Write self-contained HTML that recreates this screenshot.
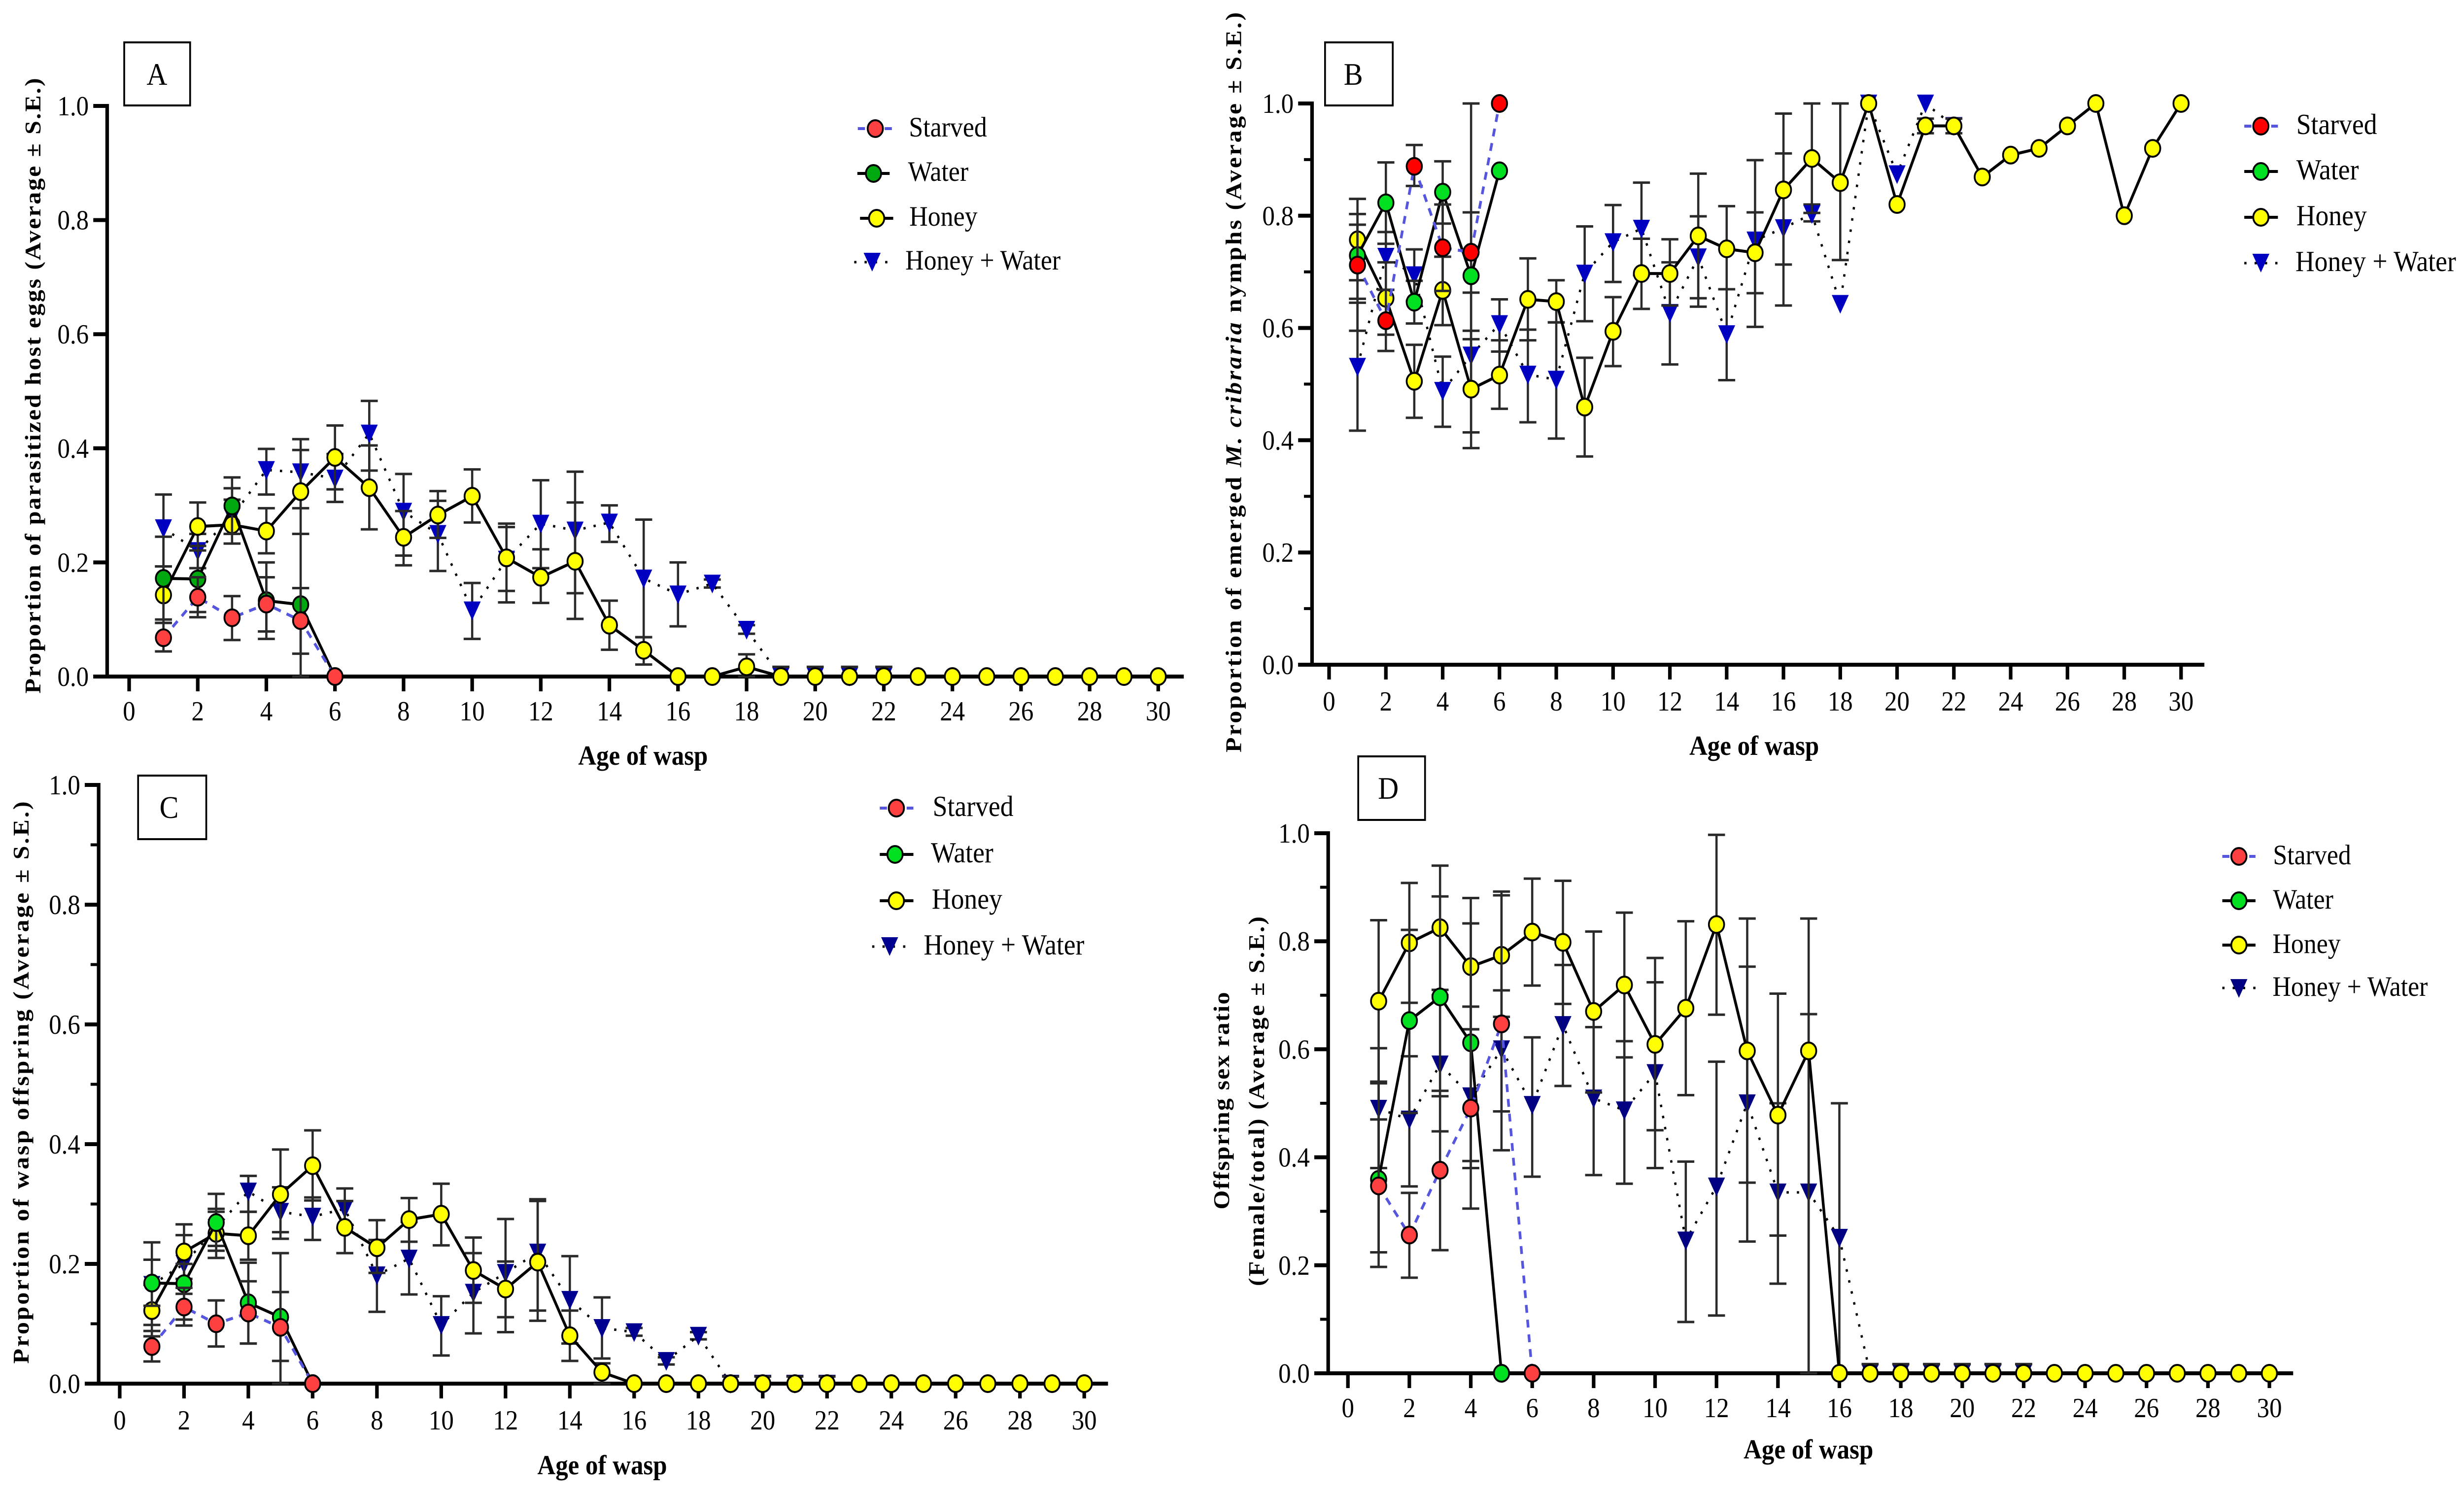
<!DOCTYPE html>
<html lang="en">
<head>
<meta charset="utf-8">
<meta name="viewport" content="width=5495, initial-scale=1">
<title>Wasp parasitism by age and diet</title>
<style>
html,body{margin:0;padding:0;background:#fff;width:100%;height:100%;overflow:hidden}
svg{display:block;position:fixed;left:0;top:0;width:100vw;height:100vh}
text{font-family:"Liberation Serif",serif;fill:#000}
.t{font-weight:bold;font-size:50px}
.xt{font-weight:bold;font-size:56px;text-anchor:middle}
.lg{font-size:57px}
.bx{font-size:64px;text-anchor:middle}
.box{fill:#fff;stroke:#000;stroke-width:4}
.dash{stroke:#5555dd;stroke-width:6;stroke-dasharray:16 14;fill:none}
.solid{stroke:#000;stroke-width:6;fill:none}
.dot{stroke:#000;stroke-width:5;stroke-dasharray:5 18;fill:none}
.mk{stroke:#000;stroke-width:4}
</style>
</head>
<body>
<svg id="fig" xmlns="http://www.w3.org/2000/svg" viewBox="0 0 5495 3034" preserveAspectRatio="none">
<rect width="5495" height="3034" fill="#fff"/>

<g>
  <rect class="box" x="277" y="86" width="147" height="128"/>
  <text class="bx" x="350" y="172">A</text>
  <text class="t" textLength="1249" lengthAdjust="spacing" text-anchor="middle" transform="translate(90,783) rotate(-90)">Proportion of parasitized host eggs (Average ± S.E.)</text>
  <text class="xt" x="1434" y="1552">Age of wasp</text>
  <g>
    <g><line class="dash" x1="1913" y1="261" x2="1989" y2="261"/><circle class="mk" cx="1952" cy="261" r="17" fill="#ff4040"/><text class="lg" x="2027" y="277">Starved</text></g>
    <g><line class="solid" x1="1912" y1="352" x2="1984" y2="352"/><circle class="mk" cx="1948" cy="352" r="17" fill="#00a810"/><text class="lg" x="2025" y="367">Water</text></g>
    <g><line class="solid" x1="1918" y1="443" x2="1992" y2="443"/><circle class="mk" cx="1955" cy="443" r="17" fill="#ffff00"/><text class="lg" x="2028" y="458">Honey</text></g>
    <g><line class="dot" x1="1905" y1="532" x2="1985" y2="532"/><polygon points="1926,513 1964,513 1945,551" fill="#0000c0"/><text class="lg" x="2019" y="547">Honey + Water</text></g>
  </g>
</g>

<g>
  <rect class="box" x="2955" y="86" width="151" height="128"/>
  <text class="bx" x="3018" y="172">B</text>
  <text class="t" textLength="1502" lengthAdjust="spacing" text-anchor="middle" transform="translate(2768,776) rotate(-90)">Proportion of emerged <tspan font-style="italic">M. cribraria</tspan> nymphs (Average ± S.E.)</text>
  <text class="xt" x="3912" y="1532">Age of wasp</text>
  <g>
    <g><line class="dash" x1="5005" y1="256" x2="5080" y2="256"/><circle class="mk" cx="5042" cy="256" r="17" fill="#ff0000"/><text class="lg" x="5121" y="272" style="font-size:59px">Starved</text></g>
    <g><line class="solid" x1="5005" y1="348" x2="5080" y2="348"/><circle class="mk" cx="5042" cy="348" r="17" fill="#00e020"/><text class="lg" x="5121" y="364" style="font-size:59px">Water</text></g>
    <g><line class="solid" x1="5005" y1="441" x2="5080" y2="441"/><circle class="mk" cx="5042" cy="441" r="17" fill="#ffff00"/><text class="lg" x="5121" y="457" style="font-size:59px">Honey</text></g>
    <g><line class="dot" x1="5005" y1="534" x2="5080" y2="534"/><polygon points="5023,515 5061,515 5042,553" fill="#0000c0"/><text class="lg" x="5119" y="550" style="font-size:59px">Honey + Water</text></g>
  </g>
</g>

<g>
  <rect class="box" x="308" y="1574" width="152" height="129"/>
  <text class="bx" x="377" y="1660">C</text>
  <text class="t" textLength="1141" lengthAdjust="spacing" text-anchor="middle" transform="translate(64,2197) rotate(-90)">Proportion of wasp offspring (Average ± S.E.)</text>
  <text class="xt" x="1343" y="2992">Age of wasp</text>
  <g>
    <g><line class="dash" x1="1962" y1="1640" x2="2037" y2="1640"/><circle class="mk" cx="1999" cy="1640" r="17" fill="#ff4040"/><text class="lg" x="2080" y="1656" style="font-size:59px">Starved</text></g>
    <g><line class="solid" x1="1962" y1="1734" x2="2037" y2="1734"/><circle class="mk" cx="1996" cy="1734" r="17" fill="#00e020"/><text class="lg" x="2076" y="1750" style="font-size:59px">Water</text></g>
    <g><line class="solid" x1="1962" y1="1828" x2="2037" y2="1828"/><circle class="mk" cx="1999" cy="1828" r="17" fill="#ffff00"/><text class="lg" x="2078" y="1844" style="font-size:59px">Honey</text></g>
    <g><line class="dot" x1="1945" y1="1921" x2="2025" y2="1921"/><polygon points="1965,1902 2003,1902 1984,1940" fill="#000090"/><text class="lg" x="2060" y="1937" style="font-size:59px">Honey + Water</text></g>
  </g>
</g>

<g>
  <rect class="box" x="3029" y="1535" width="149" height="129"/>
  <text class="bx" x="3096" y="1621">D</text>
  <text class="t" textLength="441" lengthAdjust="spacing" text-anchor="middle" transform="translate(2741,2234) rotate(-90)">Offspring sex ratio</text>
  <text class="t" textLength="750" lengthAdjust="spacing" text-anchor="middle" transform="translate(2819,2235) rotate(-90)">(Female/total) (Average ± S.E.)</text>
  <text class="xt" x="4033" y="2960">Age of wasp</text>
  <g>
    <g><line class="dash" x1="4956" y1="1738" x2="5030" y2="1738"/><circle class="mk" cx="4993" cy="1738" r="17" fill="#ff4040"/><text class="lg" x="5069" y="1754">Starved</text></g>
    <g><line class="solid" x1="4956" y1="1828" x2="5030" y2="1828"/><circle class="mk" cx="4993" cy="1828" r="17" fill="#00e020"/><text class="lg" x="5069" y="1844">Water</text></g>
    <g><line class="solid" x1="4956" y1="1918" x2="5030" y2="1918"/><circle class="mk" cx="4993" cy="1918" r="17" fill="#ffff00"/><text class="lg" x="5068" y="1934">Honey</text></g>
    <g><line class="dot" x1="4956" y1="2005" x2="5030" y2="2005"/><polygon points="4974,1987 5012,1987 4993,2025" fill="#000080"/><text class="lg" x="5068" y="2021">Honey + Water</text></g>
  </g>
</g>

<g id="charts"></g>
</svg>

<script>
// Categories and tick labels
const days = [1,2,3,4,5,6,7,8,9,10,11,12,13,14,15,16,17,18,19,20,21,22,23,24,25,26,27,28,29,30];
const xTickLabels = ['0','2','4','6','8','10','12','14','16','18','20','22','24','26','28','30'];
const yTickLabels = ['0.0','0.2','0.4','0.6','0.8','1.0'];
const yMinorTickValues = [0.1,0.3,0.5,0.7,0.9];

// Panel A: proportion of parasitized host eggs
const aStarvedMean = [.068,.139,.103,.127,.098,0];
const aStarvedHi = [.094,.174,.141,.174,.155,0];
const aStarvedLo = [.044,.104,.064,.079,.04,0];
const aWaterMean = [.172,.171,.299,.133,.126,0];
const aWaterHi = [.245,.229,.349,.2,.25,0];
const aWaterLo = [.1,.113,.25,.066,0,0];
const aHoneyMean = [.143,.263,.266,.255,.324,.384,.331,.244,.283,.316,.208,.174,.202,.09,.046,0,0,.017,0,0,0,0,0,0,0,0,0,0,0,0];
const aHoneyHi = [.193,.305,.33,.295,.397,.44,.405,.29,.325,.363,.268,.223,.305,.133,.069,0,0,.039,.017,.017,.017,.017,0,0,0,0,0,0,0,0];
const aHoneyLo = [.094,.221,.233,.216,.25,.328,.258,.195,.243,.27,.13,.129,.101,.047,.021,0,0,0,0,0,0,0,0,0,0,0,0,0,0,0];
const aHoneyWaterMean = [.26,.22,.28,.362,.358,.347,.426,.289,.25,.116,.205,.268,.256,.27,.172,.144,.163,.082,0,0,0,0];
const aHoneyWaterHi = [.319,.25,.31,.399,.416,.39,.483,.355,.308,.164,.262,.344,.359,.3,.275,.2,.17,.09,.017,.017,.017,.017];
const aHoneyWaterLo = [.193,.19,.25,.319,.295,.306,.361,.212,.185,.066,.15,.19,.146,.236,.069,.088,.156,.075,0,0,0,0];

// Panel B: proportion of emerged nymphs
const bStarvedMean = [.712,.613,.888,.743,.735,1];
const bStarvedHi = [.784,.668,.926,.82,1,1];
const bStarvedLo = [.595,.559,.853,.666,null,1];
const bWaterMean = [.729,.823,.646,.842,.693,.88];
const bWaterHi = [.803,.895,.684,.897,.806,.88];
const bWaterLo = [.652,.75,.608,.786,.58,.88];
const bHoneyMean = [.757,.653,.505,.667,.491,.516,.651,.647,.459,.594,.697,.697,.764,.741,.734,.846,.902,.859,1,.82,.96,.96,.869,.908,.92,.96,1,.8,.92,1];
const bHoneyHi = [.83,.717,.57,.727,.595,.578,.724,.685,.547,.655,.759,.758,.875,.817,.806,.982,1,1,1,.82,.973,.973,.869,.908,.92,.96,1,.8,.92,1];
const bHoneyLo = [.685,.588,.44,.605,.386,.456,.578,.61,.371,.532,.634,.64,.653,.669,.662,.713,.805,.721,1,.82,.947,.947,.869,.908,.92,.96,1,.8,.92,1];
const bHoneyWaterMean = [.531,.727,.694,.488,.551,.607,.517,.508,.697,.753,.777,.627,.726,.589,.756,.778,.803,.643,1,.874,1,.96];
const bHoneyWaterHi = [.645,.771,.74,.549,.663,.651,.597,.61,.781,.819,.859,.717,.799,.669,.899,.911,.82,.643,1,.874,1,.96];
const bHoneyWaterLo = [.417,.668,.648,.424,.414,.558,.432,.403,.612,.682,.694,.535,.638,.507,.602,.64,.79,.643,1,.874,1,.96];

// Panel C: proportion of wasp offspring
const cStarvedMean = [.062,.128,.1,.118,.094,0];
const cStarvedHi = [.088,.16,.139,.171,.153,0];
const cStarvedLo = [.037,.097,.062,.067,.038,0];
const cWaterMean = [.168,.167,.269,.135,.111,0];
const cWaterHi = [.207,.2,.317,.202,.218,0];
const cWaterLo = [.13,.107,.222,.067,0,0];
const cHoneyMean = [.122,.22,.251,.247,.316,.364,.261,.227,.274,.283,.189,.158,.203,.08,.019,0,0,0,0,0,0,0,0,0,0,0,0,0,0,0];
const cHoneyHi = [.165,.266,.292,.287,.391,.423,.305,.273,.31,.334,.244,.204,.305,.122,.034,0,0,0,.012,.012,.012,.012,0,0,0,0,0,0,0,0];
const cHoneyLo = [.079,.175,.21,.207,.242,.306,.218,.185,.237,.231,.135,.111,.105,.038,0,0,0,0,0,0,0,0,0,0,0,0,0,0,0,0];
const cHoneyWaterMean = [.165,.2,.26,.321,.287,.279,.292,.181,.209,.098,.152,.185,.219,.14,.093,.086,.038,.08,0,0,0,0];
const cHoneyWaterHi = [.236,.248,.287,.347,.328,.311,.326,.24,.27,.146,.218,.275,.308,.213,.144,.093,.044,.086,.012,.012,.012,.012];
const cHoneyWaterLo = [.098,.15,.23,.287,.253,.24,.26,.12,.149,.047,.084,.086,.122,.067,.042,.08,.032,.074,0,0,0,0];

// Panel D: offspring sex ratio
const dStarvedMean = [.347,.256,.376,.491,.647,0];
const dStarvedHi = [.47,.334,.523,.679,.885,0];
const dStarvedLo = [.224,.177,.228,.305,.413,0];
const dWaterMean = [.359,.653,.697,.612,0];
const dWaterHi = [.537,.821,.883,.833,0];
const dWaterLo = [.197,.482,.513,.393,0];
const dHoneyMean = [.689,.797,.825,.753,.774,.817,.798,.67,.719,.609,.676,.831,.597,.478,.597,0,0,0,0,0,0,0,0,0,0,0,0,0,0,0];
const dHoneyHi = [.839,.908,.94,.88,.892,.916,.912,.818,.853,.769,.837,.997,.842,.703,.842,0,.017,.017,.017,.017,.017,.017,0,0,0,0,0,0,0,0];
const dHoneyLo = [.54,.686,.71,.637,.66,.718,.684,.52,.585,.45,.515,.664,.353,.255,0,0,0,0,0,0,0,0,0,0,0,0,0,0,0,0];
const dHoneyWaterMean = [.49,.47,.572,.513,.6,.497,.645,.509,.487,.556,.246,.346,.5,.335,.335,.251,0,0,0,0,0,0];
const dHoneyWaterHi = [.602,.587,.7,.637,.709,.622,.756,.641,.615,.724,.392,.577,.753,.5,.665,.5,.017,.017,.017,.017,.017,.017];
const dHoneyWaterLo = [.38,.346,.448,.38,.485,.364,.532,.367,.351,.38,.095,.107,.244,.166,0,0,0,0,0,0,0,0];

const NS = 'http://www.w3.org/2000/svg';
const root = document.getElementById('charts');

function mk(parent, tag, attrs) {
  const el = document.createElementNS(NS, tag);
  for (const k in attrs) el.setAttribute(k, attrs[k]);
  parent.appendChild(el);
  return el;
}

function drawPanel(p) {
  const xAt = v => p.x0 + (p.x30 - p.x0) * v / 30;
  const yAt = v => p.y0 + (p.y1 - p.y0) * v;

  const g = mk(root, 'g', {});
  
  

  // axes
  const yAxis = mk(g, 'line', {x1: p.axisX, y1: yAt(1) - 4, x2: p.axisX, y2: p.y0 + 4, stroke: '#000', 'stroke-width': 8});
  
  
  const xAxis = mk(g, 'line', {x1: p.axisX - 31, y1: p.y0, x2: p.axisEnd, y2: p.y0, stroke: '#000', 'stroke-width': 8});
  
  

  xTickLabels.forEach(label => {
    const v = parseFloat(label);
    const tick = mk(g, 'line', {x1: xAt(v), y1: p.y0, x2: xAt(v), y2: p.y0 + 30, stroke: '#000', 'stroke-width': 8});
    
    
    const t = mk(g, 'text', {x: xAt(v), y: p.y0 + p.xLabelDy, 'text-anchor': 'middle', 'font-size': 56});
    t.textContent = label;
    
    
  });
  yTickLabels.forEach(label => {
    const v = parseFloat(label);
    const tick = mk(g, 'line', {x1: p.axisX - 31, y1: yAt(v), x2: p.axisX, y2: yAt(v), stroke: '#000', 'stroke-width': 8});
    
    
    const t = mk(g, 'text', {x: p.axisX - 41, y: yAt(v) + 19, 'text-anchor': 'end', 'font-size': 56});
    t.textContent = label;
    
    
  });
  if (p.minor) {
    yMinorTickValues.forEach(v => {
      const tick = mk(g, 'line', {x1: p.axisX - 18, y1: yAt(v), x2: p.axisX, y2: yAt(v), stroke: '#000', 'stroke-width': 6});
      
      
    });
  }

  // series
  p.series.forEach(s => {
    const sg = mk(g, 'g', {});
    
    

    s.mean.forEach((m, i) => {
      const hi = s.hi[i], lo = s.lo[i];
      if (hi === lo) return;
      const cx = xAt(days[i]);
      const top = hi === null ? m : hi, bot = lo === null ? m : lo;
      const stem = mk(sg, 'line', {x1: cx, y1: yAt(top), x2: cx, y2: yAt(bot), stroke: '#2a2a2a', 'stroke-width': 5});
      
      
      [hi, lo].forEach(c => {
        if (c === null) return;
        const cap = mk(sg, 'line', {x1: cx - 19, y1: yAt(c), x2: cx + 19, y2: yAt(c), stroke: '#2a2a2a', 'stroke-width': 5});
        
        
      });
    });

    const pts = s.mean.map((m, i) => xAt(days[i]) + ',' + yAt(m)).join(' ');
    const line = mk(sg, 'polyline', {points: pts, class: s.lineClass});
    
    

    s.mean.forEach((m, i) => {
      const cx = xAt(days[i]), cy = yAt(m);
      let marker;
      if (s.tri) {
        marker = mk(sg, 'polygon', {points: (cx - 19) + ',' + (cy - 18) + ' ' + (cx + 19) + ',' + (cy - 18) + ' ' + cx + ',' + (cy + 20), fill: s.fill});
      } else {
        marker = mk(sg, 'circle', {cx: cx, cy: cy, r: 17, fill: s.fill, class: 'mk'});
      }
      
      
    });
  });
}

function seriesSet(hwMean, hwHi, hwLo, hwFill, hMean, hHi, hLo, wMean, wHi, wLo, wFill, sMean, sHi, sLo, sFill) {
  return [
    {key: 'honey-water', mean: hwMean, hi: hwHi, lo: hwLo, fill: hwFill, tri: true, lineClass: 'dot'},
    {key: 'honey', mean: hMean, hi: hHi, lo: hLo, fill: '#ffff00', lineClass: 'solid'},
    {key: 'water', mean: wMean, hi: wHi, lo: wLo, fill: wFill, lineClass: 'solid'},
    {key: 'starved', mean: sMean, hi: sHi, lo: sLo, fill: sFill, lineClass: 'dash'}
  ];
}

drawPanel({id: 'a', x0: 288, x30: 2583, y0: 1373, y1: 215, axisX: 239, axisEnd: 2640, xLabelDy: 89, minor: false,
  series: seriesSet(aHoneyWaterMean, aHoneyWaterHi, aHoneyWaterLo, '#0000c0', aHoneyMean, aHoneyHi, aHoneyLo, aWaterMean, aWaterHi, aWaterLo, '#00a810', aStarvedMean, aStarvedHi, aStarvedLo, '#ff4040')});
drawPanel({id: 'b', x0: 2964, x30: 4864, y0: 1349, y1: 210, axisX: 2926, axisEnd: 4916, xLabelDy: 93, minor: true,
  series: seriesSet(bHoneyWaterMean, bHoneyWaterHi, bHoneyWaterLo, '#0000c0', bHoneyMean, bHoneyHi, bHoneyLo, bWaterMean, bWaterHi, bWaterLo, '#00e020', bStarvedMean, bStarvedHi, bStarvedLo, '#ff0000')});
drawPanel({id: 'c', x0: 267, x30: 2418, y0: 2808, y1: 1593, axisX: 220, axisEnd: 2471, xLabelDy: 93, minor: true,
  series: seriesSet(cHoneyWaterMean, cHoneyWaterHi, cHoneyWaterLo, '#000090', cHoneyMean, cHoneyHi, cHoneyLo, cWaterMean, cWaterHi, cWaterLo, '#00e020', cStarvedMean, cStarvedHi, cStarvedLo, '#ff4040')});
drawPanel({id: 'd', x0: 3006, x30: 5061, y0: 2787, y1: 1691, axisX: 2962, axisEnd: 5114, xLabelDy: 89, minor: true,
  series: seriesSet(dHoneyWaterMean, dHoneyWaterHi, dHoneyWaterLo, '#000080', dHoneyMean, dHoneyHi, dHoneyLo, dWaterMean, dWaterHi, dWaterLo, '#00e020', dStarvedMean, dStarvedHi, dStarvedLo, '#ff4040')});
</script>
</body>
</html>
